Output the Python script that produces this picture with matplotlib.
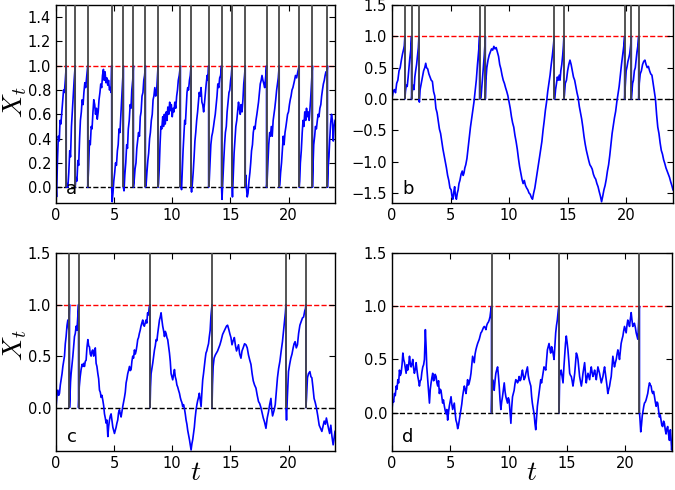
import matplotlib
matplotlib.use('Agg')
import matplotlib.pyplot as plt

# ---------------- data ----------------
# Panel a
a_spikes = [0.88, 1.65, 2.73, 4.79, 5.80, 6.66, 7.69, 8.78, 10.70, 11.62,
            13.13, 14.24, 15.14, 16.28, 18.11, 19.20, 20.92, 22.06, 23.35]
a_t = [0.00, 0.05, 0.12, 0.20, 0.28, 0.35, 0.42, 0.50, 0.58, 0.65, 0.72, 0.80,
       0.95, 1.02, 1.10, 1.18, 1.25, 1.33, 1.40, 1.48, 1.56,
       1.72, 1.80, 1.88, 1.95, 2.03, 2.10, 2.18, 2.25, 2.33, 2.40, 2.48, 2.55, 2.63,
       2.80, 2.88, 2.95, 3.03, 3.10, 3.18, 3.25, 3.33, 3.40, 3.48, 3.55, 3.63, 3.70, 3.78,
       3.85, 3.93, 4.00, 4.08, 4.15, 4.22, 4.30, 4.38, 4.45, 4.52, 4.60, 4.68, 4.74, 4.77,
       4.83, 4.90, 4.97, 5.05, 5.12, 5.20, 5.28, 5.35, 5.42, 5.50, 5.58, 5.65, 5.72,
       5.85, 5.92, 6.00, 6.08, 6.15, 6.22, 6.30, 6.38, 6.45, 6.52, 6.60,
       6.72, 6.80, 6.88, 6.95, 7.02, 7.10, 7.18, 7.25, 7.32, 7.40, 7.48, 7.55, 7.62,
       7.75, 7.82, 7.90, 7.97, 8.05, 8.12, 8.20, 8.28, 8.35, 8.42, 8.50, 8.58, 8.65, 8.72,
       8.82, 8.88, 8.95, 9.02, 9.10, 9.18, 9.25, 9.32, 9.40, 9.48, 9.55, 9.62, 9.70,
       9.78, 9.85, 9.92, 10.00, 10.08, 10.15, 10.22, 10.30, 10.38, 10.45, 10.52, 10.60,
       10.74, 10.80, 10.87, 10.93, 11.00, 11.07, 11.13, 11.20, 11.27, 11.33, 11.40, 11.48, 11.55,
       11.66, 11.72, 11.80, 11.88, 11.95, 12.02, 12.10, 12.18, 12.25, 12.32,
       12.40, 12.48, 12.55, 12.62, 12.70, 12.78, 12.85, 12.92, 13.00, 13.07,
       13.18, 13.25, 13.32, 13.40, 13.47, 13.55, 13.62, 13.70, 13.78, 13.85, 13.92, 14.00, 14.08, 14.16,
       14.28, 14.35, 14.42, 14.50, 14.57, 14.65, 14.72, 14.80, 14.88, 14.95, 15.02, 15.08,
       15.18, 15.25, 15.32, 15.40, 15.47, 15.55, 15.62, 15.70, 15.77, 15.85, 15.92, 16.00, 16.08, 16.15, 16.22,
       16.32, 16.38, 16.45, 16.52, 16.60, 16.68, 16.75, 16.82, 16.90, 16.97, 17.05, 17.12,
       17.20, 17.28, 17.35, 17.42, 17.50, 17.57, 17.65, 17.72, 17.80, 17.88, 17.95, 18.03,
       18.16, 18.22, 18.30, 18.38, 18.45, 18.52, 18.60, 18.68, 18.75, 18.82, 18.90, 18.98, 19.05, 19.12,
       19.25, 19.32, 19.40, 19.48, 19.55, 19.62, 19.70, 19.78, 19.85, 19.92, 20.00,
       20.08, 20.15, 20.22, 20.30, 20.38, 20.45, 20.52, 20.60, 20.70, 20.80,
       20.96, 21.02, 21.10, 21.18, 21.25, 21.32, 21.40, 21.48, 21.55, 21.62, 21.70, 21.78, 21.85, 21.92, 22.00,
       22.10, 22.17, 22.25, 22.32, 22.40, 22.48, 22.55, 22.62, 22.70, 22.78, 22.85, 22.92, 23.00, 23.08, 23.15, 23.22, 23.30,
       23.40, 23.48, 23.55, 23.62, 23.70, 23.78, 23.85, 23.92, 24.00]
a_x = [0.02, -0.08, 0.20, 0.42, 0.38, 0.55, 0.52, 0.62, 0.72, 0.80, 0.78, 0.88,
       0.03, 0.00, 0.12, 0.30, 0.25, 0.50, 0.62, 0.75, 0.88,
       0.08, 0.05, 0.22, 0.18, 0.40, 0.55, 0.62, 0.72, 0.68, 0.78, 0.86, 0.82, 0.90,
       0.15, 0.38, 0.35, 0.50, 0.48, 0.62, 0.72, 0.68, 0.60, 0.65, 0.56, 0.62, 0.72, 0.78,
       0.85, 0.82, 0.92, 0.97, 0.88, 0.95, 0.86, 0.90, 0.84, 0.88, 0.80, 0.82, 0.78, 0.92,
       -0.12, -0.05, 0.05, 0.12, 0.20, 0.18, 0.30, 0.35, 0.48, 0.45, 0.60, 0.72, 0.85,
       -0.03, 0.10, 0.20, 0.35, 0.32, 0.48, 0.55, 0.68, 0.65, 0.80, 0.88,
       0.05, 0.15, 0.20, 0.32, 0.38, 0.45, 0.42, 0.58, 0.62, 0.75, 0.78, 0.88, 0.92,
       0.02, 0.12, 0.22, 0.28, 0.40, 0.45, 0.55, 0.60, 0.72, 0.75, 0.82, 0.75, 0.78, 0.90,
       0.03, 0.15, 0.35, 0.50, 0.48, 0.58, 0.50, 0.60, 0.52, 0.62, 0.55, 0.66, 0.60,
       0.70, 0.63, 0.68, 0.58, 0.65, 0.62, 0.70, 0.65, 0.75, 0.80, 0.88, 0.92,
       0.02, -0.02, 0.15, 0.30, 0.42, 0.55, 0.52, 0.65, 0.78, 0.82, 0.80, 0.88, 0.92,
       -0.04, 0.02, 0.12, 0.25, 0.38, 0.45, 0.55, 0.62, 0.70, 0.78,
       0.75, 0.82, 0.70, 0.68, 0.62, 0.70, 0.78, 0.85, 0.92, 0.88,
       0.05, 0.20, 0.35, 0.42, 0.45, 0.50, 0.55, 0.60, 0.68, 0.75, 0.85, 0.82, 0.90, 0.92,
       -0.10, 0.05, 0.20, 0.35, 0.45, 0.50, 0.62, 0.70, 0.78, 0.80, 0.88, 0.92,
       -0.08, 0.10, 0.28, 0.40, 0.50, 0.55, 0.62, 0.70, 0.65, 0.60, 0.68, 0.62, 0.72, 0.85, 0.92,
       0.10, 0.00, -0.08, -0.05, 0.05, 0.12, 0.20, 0.30, 0.35, 0.45, 0.50, 0.48,
       0.55, 0.60, 0.65, 0.70, 0.78, 0.85, 0.88, 0.92, 0.88, 0.85, 0.82, 0.90,
       0.05, 0.18, 0.35, 0.45, 0.42, 0.50, 0.42, 0.55, 0.60, 0.65, 0.72, 0.80, 0.85, 0.90,
       0.02, 0.12, 0.20, 0.32, 0.42, 0.35, 0.45, 0.50, 0.55, 0.60, 0.62,
       0.68, 0.72, 0.75, 0.80, 0.82, 0.85, 0.88, 0.92, 0.90, 0.95,
       0.05, 0.20, 0.30, 0.45, 0.55, 0.50, 0.62, 0.55, 0.65, 0.58, 0.62, 0.55, 0.65, 0.75, 0.90,
       0.15, 0.35, 0.42, 0.50, 0.48, 0.55, 0.60, 0.58, 0.65, 0.68, 0.75, 0.80, 0.85, 0.88, 0.92, 0.95, 0.92,
       0.15, 0.25, 0.40, 0.52, 0.60, 0.55, 0.38, 0.50, 0.55]

# Panel b
b_spikes = [1.10, 1.67, 2.30, 7.48, 7.97, 13.85, 14.68, 19.87, 20.44, 21.07]
b_t = [0.00, 0.10, 0.20, 0.30, 0.40, 0.50, 0.60, 0.70, 0.80, 0.90, 1.00, 1.05,
       1.15, 1.22, 1.30, 1.38, 1.45, 1.52, 1.60,
       1.72, 1.80, 1.88, 1.95, 2.02, 2.10, 2.18, 2.25,
       2.34, 2.40, 2.50, 2.60, 2.70, 2.80, 2.88, 2.95, 3.05, 3.15,
       3.25, 3.35, 3.45, 3.55, 3.65, 3.75, 3.85, 3.95, 4.05, 4.15,
       4.25, 4.35, 4.45, 4.55, 4.65, 4.75, 4.85, 4.95, 5.05, 5.12,
       5.20, 5.28, 5.35, 5.42, 5.50, 5.58, 5.65, 5.72, 5.80, 5.90,
       6.00, 6.08, 6.15, 6.22, 6.30, 6.40, 6.50, 6.60, 6.70, 6.80,
       6.90, 7.00, 7.10, 7.20, 7.30, 7.38, 7.44,
       7.52, 7.60, 7.70, 7.80, 7.88, 7.93,
       8.02, 8.10, 8.20, 8.30, 8.40, 8.50, 8.60, 8.70, 8.80, 8.90,
       9.00, 9.10, 9.20, 9.30, 9.40, 9.50, 9.60, 9.70, 9.80, 9.90,
       10.00, 10.10, 10.20, 10.30, 10.40, 10.50, 10.60, 10.70, 10.80, 10.90,
       11.00, 11.10, 11.20, 11.30, 11.40, 11.50, 11.60, 11.70, 11.80, 11.90,
       12.00, 12.10, 12.20, 12.30, 12.40, 12.50, 12.60, 12.70, 12.80, 12.90,
       13.00, 13.10, 13.20, 13.30, 13.40, 13.50, 13.60, 13.70, 13.80,
       13.90, 13.97, 14.05, 14.12, 14.20, 14.28, 14.35, 14.42, 14.50, 14.58, 14.64,
       14.72, 14.80, 14.90,
       15.00, 15.10, 15.20, 15.30, 15.40, 15.50, 15.60, 15.70, 15.80, 15.90,
       16.00, 16.10, 16.20, 16.30, 16.40, 16.50, 16.60, 16.70, 16.80, 16.90,
       17.00, 17.10, 17.20, 17.30, 17.40, 17.50, 17.60, 17.70, 17.80, 17.90,
       18.00, 18.10, 18.20, 18.30, 18.40, 18.50, 18.60, 18.70, 18.80, 18.90,
       19.00, 19.10, 19.20, 19.30, 19.40, 19.50, 19.60, 19.70, 19.80,
       19.92, 20.00, 20.08, 20.15, 20.22, 20.30, 20.38,
       20.48, 20.55, 20.62, 20.70, 20.78, 20.85, 20.92, 21.00,
       21.12, 21.20, 21.30, 21.40, 21.50, 21.60, 21.70, 21.80, 21.90, 22.00,
       22.10, 22.20, 22.30, 22.40, 22.50, 22.60, 22.70, 22.80, 22.90, 23.00,
       23.10, 23.20, 23.30, 23.40, 23.50, 23.60, 23.70, 23.80, 23.90, 24.00]
b_x = [0.00, 0.12, 0.15, 0.10, 0.25, 0.30, 0.45, 0.50, 0.62, 0.72, 0.80, 0.85,
       0.12, 0.22, 0.20, 0.35, 0.50, 0.65, 0.78,
       0.10, 0.22, 0.15, 0.35, 0.45, 0.55, 0.70, 0.82,
       -0.05, 0.15, 0.25, 0.35, 0.45, 0.50, 0.57, 0.50, 0.48, 0.40,
       0.35, 0.30, 0.28, 0.12, 0.05, -0.15, -0.22, -0.35, -0.48, -0.55,
       -0.68, -0.80, -0.90, -1.00, -1.10, -1.22, -1.30, -1.42, -1.45, -1.55,
       -1.60, -1.48, -1.40, -1.55, -1.60, -1.50, -1.45, -1.35, -1.30, -1.20,
       -1.15, -1.22, -1.18, -1.10, -1.05, -0.95, -0.78, -0.60, -0.45, -0.32,
       -0.20, -0.05, 0.12, 0.30, 0.55, 0.72, 0.85,
       0.00, 0.02, 0.25, 0.50, 0.70, 0.85,
       0.30, 0.50, 0.62, 0.70, 0.75, 0.80, 0.78, 0.84, 0.80, 0.82,
       0.75, 0.68, 0.55, 0.48, 0.38, 0.30, 0.25, 0.18, 0.12, 0.05,
       -0.05, -0.15, -0.28, -0.38, -0.45, -0.58, -0.68, -0.80, -0.95, -1.08,
       -1.18, -1.28, -1.35, -1.30, -1.38, -1.42, -1.45, -1.50, -1.52, -1.57,
       -1.60, -1.50, -1.42, -1.30, -1.18, -1.05, -0.93, -0.80, -0.68, -0.50,
       -0.35, -0.18, -0.05, 0.12, 0.25, 0.38, 0.55, 0.70, 0.88,
       0.00, 0.15, 0.25, 0.35, 0.30, 0.38, 0.30, 0.45, 0.55, 0.70, 0.85,
       0.05, 0.25, 0.30,
       0.45, 0.55, 0.62, 0.55, 0.45, 0.35, 0.30, 0.20, 0.10, 0.02,
       -0.12, -0.22, -0.32, -0.45, -0.60, -0.72, -0.82, -0.90, -0.98, -1.05,
       -1.08, -1.12, -1.20, -1.25, -1.28, -1.35, -1.40, -1.48, -1.55, -1.64,
       -1.55, -1.45, -1.38, -1.28, -1.15, -1.05, -0.90, -0.72, -0.55, -0.42,
       -0.30, -0.20, -0.05, 0.08, 0.20, 0.38, 0.55, 0.70, 0.85,
       0.20, 0.45, 0.52, 0.60, 0.65, 0.72, 0.85,
       0.10, 0.25, 0.30, 0.45, 0.50, 0.62, 0.75, 0.85,
       0.25, 0.40, 0.45, 0.55, 0.60, 0.62, 0.55, 0.50, 0.52, 0.45,
       0.40, 0.38, 0.25, 0.12, 0.00, -0.25, -0.45, -0.55, -0.70, -0.82,
       -0.88, -0.97, -1.03, -1.10, -1.15, -1.20, -1.25, -1.32, -1.38, -1.45]

# Panel c
c_spikes = [1.16, 1.94, 8.09, 13.42, 19.78, 21.50]
c_t = [0.00, 0.08, 0.16, 0.23, 0.30, 0.37, 0.44, 0.52, 0.59, 0.66, 0.73, 0.80, 0.87, 0.95, 1.02, 1.10,
       1.20, 1.25, 1.30, 1.38, 1.45, 1.52, 1.59, 1.66, 1.73, 1.80, 1.88,
       2.00, 2.08, 2.16, 2.24, 2.31, 2.38, 2.45, 2.52, 2.59, 2.66,
       2.74, 2.81, 2.88, 2.95, 3.02, 3.10, 3.17, 3.24, 3.31, 3.38,
       3.45, 3.52, 3.60, 3.67, 3.74, 3.81, 3.88, 3.95, 4.03, 4.10,
       4.17, 4.24, 4.31, 4.38, 4.46, 4.53, 4.60, 4.67, 4.74, 4.81,
       4.89, 4.96, 5.03, 5.10, 5.17, 5.24, 5.31, 5.38, 5.46, 5.53,
       5.60, 5.67, 5.74, 5.81, 5.89, 5.96, 6.03, 6.10, 6.17, 6.24,
       6.32, 6.39, 6.46, 6.53, 6.60, 6.67, 6.75, 6.82, 6.89, 6.96,
       7.03, 7.10, 7.17, 7.24, 7.31, 7.38, 7.46, 7.53, 7.60, 7.67,
       7.74, 7.81, 7.88, 7.95, 8.03,
       8.13, 8.18, 8.25, 8.32, 8.40, 8.47, 8.54, 8.61, 8.68, 8.75,
       8.82, 8.90, 8.97, 9.04, 9.11, 9.18, 9.25, 9.33, 9.40, 9.47,
       9.54, 9.61, 9.68, 9.76, 9.83, 9.90, 9.97, 10.04, 10.11, 10.19,
       10.26, 10.33, 10.40, 10.47, 10.54, 10.62, 10.69, 10.76, 10.83, 10.90,
       10.97, 11.05, 11.12, 11.19, 11.26, 11.33, 11.40, 11.48, 11.55, 11.62,
       11.69, 11.76, 11.83, 11.90, 11.97, 12.05, 12.12, 12.19, 12.26, 12.33,
       12.40, 12.48, 12.55, 12.62, 12.69, 12.76, 12.83, 12.90, 12.97, 13.05,
       13.12, 13.19, 13.26, 13.33, 13.38,
       13.46, 13.52, 13.60, 13.70, 13.80, 13.90, 14.00, 14.10, 14.20, 14.33,
       14.45, 14.56, 14.66, 14.76, 14.86, 14.97, 15.05, 15.14, 15.24, 15.34,
       15.44, 15.53, 15.62, 15.70, 15.80, 15.91, 16.00, 16.10, 16.22, 16.34,
       16.45, 16.56, 16.67, 16.77, 16.87, 16.97, 17.08, 17.20, 17.31, 17.42,
       17.52, 17.63, 17.73, 17.83, 17.94, 18.06, 18.17, 18.28, 18.38, 18.49,
       18.56, 18.63, 18.75, 18.86, 18.95, 19.05, 19.15, 19.26, 19.37, 19.48,
       19.58, 19.66, 19.73,
       19.83, 19.90, 20.00, 20.10, 20.20, 20.30, 20.40, 20.48, 20.57, 20.67,
       20.77, 20.87, 20.98, 21.10, 21.20, 21.30, 21.40, 21.46,
       21.55, 21.63, 21.72, 21.84, 21.93, 22.01, 22.10, 22.20, 22.30, 22.40,
       22.52, 22.64, 22.75, 22.87, 22.97, 23.07, 23.17, 23.26, 23.35, 23.44,
       23.54, 23.64, 23.74, 23.84, 23.92, 24.00]
c_x = [0.00, 0.12, 0.17, 0.12, 0.14, 0.22, 0.27, 0.33, 0.40, 0.45, 0.50, 0.62, 0.69, 0.80, 0.85, 0.76,
       0.10, 0.25, 0.33, 0.42, 0.50, 0.60, 0.69, 0.72, 0.79, 0.75, 0.89,
       0.20, 0.30, 0.37, 0.42, 0.40, 0.43, 0.40, 0.45, 0.46, 0.58,
       0.66, 0.60, 0.59, 0.52, 0.50, 0.55, 0.56, 0.50, 0.53, 0.58,
       0.43, 0.40, 0.33, 0.28, 0.17, 0.15, 0.10, 0.12, 0.07, 0.02,
       -0.06, -0.10, -0.15, -0.12, -0.28, -0.18, -0.12, -0.08, -0.06, -0.12,
       -0.19, -0.22, -0.25, -0.22, -0.19, -0.15, -0.12, -0.05, -0.02, -0.06,
       -0.09, -0.04, 0.01, 0.05, 0.10, 0.15, 0.24, 0.28, 0.33, 0.36,
       0.40, 0.36, 0.37, 0.45, 0.50, 0.48, 0.56, 0.52, 0.55, 0.60,
       0.66, 0.68, 0.72, 0.75, 0.79, 0.82, 0.85, 0.80, 0.79, 0.82,
       0.85, 0.82, 0.92, 0.90, 0.98,
       0.20, 0.33, 0.38, 0.43, 0.50, 0.56, 0.60, 0.66, 0.65, 0.72,
       0.78, 0.85, 0.88, 0.92, 0.85, 0.79, 0.75, 0.69, 0.74, 0.72,
       0.68, 0.66, 0.60, 0.53, 0.45, 0.33, 0.30, 0.27, 0.32, 0.37,
       0.30, 0.27, 0.22, 0.20, 0.17, 0.14, 0.10, 0.07, 0.05, 0.01,
       0.03, -0.01, -0.06, -0.12, -0.16, -0.22, -0.26, -0.31, -0.36, -0.41,
       -0.35, -0.31, -0.25, -0.19, -0.10, -0.02, 0.03, 0.07, 0.10, 0.14,
       0.08, 0.01, 0.15, 0.27, 0.33, 0.40, 0.47, 0.53, 0.55, 0.59,
       0.62, 0.69, 0.75, 0.89, 0.95,
       0.22, 0.40, 0.48, 0.51, 0.53, 0.55, 0.58, 0.61, 0.65, 0.71,
       0.74, 0.77, 0.79, 0.80, 0.76, 0.71, 0.68, 0.61, 0.65, 0.68,
       0.60, 0.55, 0.58, 0.61, 0.52, 0.48, 0.55, 0.58, 0.62, 0.61,
       0.58, 0.51, 0.46, 0.42, 0.33, 0.26, 0.22, 0.19, 0.12, 0.06,
       0.04, 0.00, -0.05, -0.10, -0.14, -0.20, -0.10, -0.04, 0.03, 0.09,
       -0.02, -0.08, -0.03, 0.03, 0.15, 0.29, 0.38, 0.45, 0.55, 0.64,
       0.75, 0.84, 0.92,
       -0.12, 0.10, 0.35, 0.42, 0.48, 0.52, 0.58, 0.62, 0.64, 0.58,
       0.61, 0.72, 0.80, 0.84, 0.87, 0.88, 0.94, 0.96,
       0.10, 0.29, 0.33, 0.35, 0.30, 0.29, 0.20, 0.09, 0.05, 0.00,
       -0.08, -0.17, -0.20, -0.23, -0.18, -0.13, -0.16, -0.10, -0.15, -0.20,
       -0.25, -0.17, -0.28, -0.36, -0.30, -0.23]

# Panel d
d_spikes = [8.53, 14.32, 21.21]
d_t = [0.00, 0.07, 0.14, 0.21, 0.28, 0.36, 0.43, 0.50, 0.57, 0.64,
       0.71, 0.78, 0.86, 0.93, 1.00, 1.07, 1.14, 1.21, 1.28, 1.35,
       1.42, 1.50, 1.57, 1.64, 1.71, 1.78, 1.85, 1.92, 2.00, 2.07,
       2.14, 2.21, 2.28, 2.35, 2.42, 2.49, 2.56, 2.64, 2.71, 2.78,
       2.86, 2.93, 2.98, 3.06, 3.13, 3.21, 3.28, 3.35, 3.42, 3.49,
       3.56, 3.63, 3.70, 3.78, 3.85, 3.92, 3.99, 4.06, 4.13, 4.20,
       4.27, 4.34, 4.41, 4.49, 4.56, 4.63, 4.70, 4.77, 4.84, 4.91,
       4.98, 5.06, 5.13, 5.20, 5.27, 5.34, 5.41, 5.48, 5.56, 5.63,
       5.70, 5.77, 5.84, 5.91, 5.98, 6.05, 6.12, 6.20, 6.27, 6.34,
       6.41, 6.48, 6.55, 6.62, 6.70, 6.77, 6.84, 6.91, 6.98, 7.05,
       7.12, 7.19, 7.26, 7.34, 7.41, 7.48, 7.55, 7.62, 7.69, 7.76,
       7.84, 7.91, 7.98, 8.05, 8.12, 8.19, 8.26, 8.33, 8.40, 8.48,
       8.57, 8.62, 8.69, 8.76, 8.83, 8.90, 8.97, 9.05, 9.12, 9.19,
       9.26, 9.33, 9.40, 9.47, 9.55, 9.62, 9.69, 9.76, 9.83, 9.90,
       9.97, 10.04, 10.12, 10.19, 10.26, 10.33, 10.40, 10.47, 10.54, 10.61,
       10.69, 10.76, 10.83, 10.90, 10.97, 11.04, 11.11, 11.18, 11.25, 11.32,
       11.40, 11.47, 11.54, 11.61, 11.68, 11.75, 11.82, 11.90, 11.97, 12.03,
       12.10, 12.18, 12.25, 12.32, 12.39, 12.46, 12.53, 12.60, 12.68, 12.75,
       12.82, 12.89, 12.96, 13.03, 13.10, 13.18, 13.25, 13.32, 13.39, 13.46,
       13.53, 13.60, 13.68, 13.75, 13.82, 13.89, 13.96, 14.03, 14.10, 14.17,
       14.26,
       14.37, 14.44, 14.50, 14.58, 14.66, 14.73, 14.80, 14.87, 14.94, 15.01,
       15.08, 15.16, 15.23, 15.30, 15.37, 15.44, 15.51, 15.58, 15.66, 15.73,
       15.80, 15.87, 15.94, 16.01, 16.08, 16.15, 16.23, 16.30, 16.37, 16.44,
       16.51, 16.58, 16.65, 16.72, 16.80, 16.87, 16.94, 17.01, 17.08, 17.15,
       17.22, 17.30, 17.37, 17.44, 17.51, 17.58, 17.65, 17.72, 17.79, 17.87,
       17.94, 18.01, 18.08, 18.15, 18.22, 18.29, 18.36, 18.43, 18.50, 18.58,
       18.65, 18.72, 18.79, 18.86, 18.93, 19.00, 19.07, 19.15, 19.22, 19.29,
       19.36, 19.43, 19.50, 19.57, 19.64, 19.72, 19.79, 19.86, 19.93, 20.00,
       20.07, 20.14, 20.21, 20.29, 20.36, 20.43, 20.50, 20.57, 20.64, 20.71,
       20.78, 20.86, 20.93, 21.00, 21.07, 21.14, 21.18,
       21.25, 21.32, 21.38, 21.45, 21.52, 21.58, 21.64, 21.71, 21.78, 21.85,
       21.92, 22.00, 22.07, 22.14, 22.21, 22.28, 22.35, 22.42, 22.50, 22.57,
       22.64, 22.71, 22.78, 22.85, 22.92, 22.99, 23.06, 23.13, 23.20, 23.28,
       23.35, 23.42, 23.49, 23.56, 23.63, 23.70, 23.78, 23.86, 23.92, 23.97,
       24.00]
d_x = [0.03, 0.12, 0.10, 0.18, 0.16, 0.25, 0.22, 0.31, 0.28, 0.40,
       0.35, 0.37, 0.45, 0.56, 0.50, 0.47, 0.42, 0.37, 0.45, 0.40,
       0.44, 0.53, 0.46, 0.43, 0.46, 0.50, 0.42, 0.37, 0.41, 0.47,
       0.40, 0.34, 0.30, 0.25, 0.30, 0.31, 0.38, 0.43, 0.45, 0.50,
       0.78, 0.60, 0.43, 0.31, 0.20, 0.09, 0.22, 0.28, 0.33, 0.37,
       0.30, 0.31, 0.36, 0.34, 0.28, 0.25, 0.30, 0.18, 0.22, 0.21,
       0.15, 0.09, 0.12, 0.06, 0.02, -0.01, 0.03, -0.07, 0.00, 0.06,
       0.10, 0.15, 0.08, 0.03, 0.06, 0.09, 0.00, -0.07, -0.10, -0.15,
       -0.12, -0.07, -0.02, 0.03, 0.08, 0.15, 0.20, 0.25, 0.22, 0.18,
       0.24, 0.31, 0.26, 0.28, 0.32, 0.37, 0.45, 0.53, 0.50, 0.47,
       0.55, 0.59, 0.62, 0.65, 0.67, 0.69, 0.72, 0.75, 0.76, 0.78,
       0.80, 0.81, 0.80, 0.78, 0.82, 0.84, 0.85, 0.87, 0.90, 0.97,
       0.25, 0.31, 0.27, 0.21, 0.30, 0.37, 0.40, 0.43, 0.35, 0.25,
       0.12, 0.03, 0.10, 0.15, 0.22, 0.28, 0.20, 0.15, 0.12, 0.09,
       0.14, 0.12, 0.00, -0.10, 0.05, 0.15, 0.18, 0.21, 0.27, 0.31,
       0.30, 0.28, 0.30, 0.34, 0.30, 0.31, 0.36, 0.40, 0.35, 0.31,
       0.33, 0.37, 0.40, 0.43, 0.35, 0.31, 0.28, 0.25, 0.15, 0.09,
       0.04, -0.01, -0.10, -0.16, -0.05, 0.06, 0.12, 0.18, 0.25, 0.31,
       0.28, 0.33, 0.38, 0.43, 0.42, 0.40, 0.50, 0.59, 0.62, 0.65,
       0.60, 0.56, 0.62, 0.59, 0.55, 0.50, 0.62, 0.75, 0.82, 0.87,
       0.97,
       0.34, 0.38, 0.40, 0.34, 0.28, 0.42, 0.53, 0.65, 0.72, 0.66,
       0.59, 0.48, 0.37, 0.35, 0.34, 0.30, 0.25, 0.30, 0.37, 0.46,
       0.56, 0.54, 0.50, 0.42, 0.34, 0.30, 0.25, 0.30, 0.37, 0.42,
       0.47, 0.38, 0.28, 0.33, 0.37, 0.34, 0.31, 0.38, 0.43, 0.38,
       0.34, 0.37, 0.40, 0.35, 0.31, 0.37, 0.43, 0.40, 0.37, 0.32,
       0.28, 0.31, 0.34, 0.39, 0.43, 0.37, 0.31, 0.25, 0.18, 0.22,
       0.25, 0.30, 0.34, 0.44, 0.53, 0.48, 0.43, 0.47, 0.50, 0.55,
       0.59, 0.55, 0.50, 0.58, 0.65, 0.69, 0.72, 0.77, 0.81, 0.78,
       0.75, 0.82, 0.87, 0.84, 0.81, 0.88, 0.94, 0.87, 0.81, 0.83,
       0.84, 0.80, 0.75, 0.72, 0.69, 0.85, 0.97,
       -0.05, -0.18, -0.12, -0.03, 0.02, 0.06, 0.09, 0.10, 0.12, 0.15,
       0.18, 0.24, 0.28, 0.26, 0.25, 0.20, 0.18, 0.20, 0.15, 0.10,
       0.06, 0.10, 0.09, 0.02, -0.04, -0.02, -0.07, -0.12, -0.13, -0.08,
       -0.10, -0.16, -0.20, -0.15, -0.13, -0.20, -0.26, -0.16, -0.25, -0.35,
       -0.30]

threshold = 1.0
reset = 0.0
x_ticks = [0, 5, 10, 15, 20]
a_yticks = [0.0, 0.2, 0.4, 0.6, 0.8, 1.0, 1.2, 1.4]
b_yticks = [-1.5, -1.0, -0.5, 0.0, 0.5, 1.0, 1.5]
cd_yticks = [0.0, 0.5, 1.0, 1.5]

# ---------------- style ----------------
plt.rcParams.update({
    'font.family': 'DejaVu Sans',
    'font.size': 10.5,
    'mathtext.fontset': 'cm',
    'xtick.direction': 'in',
    'ytick.direction': 'in',
    'xtick.top': True,
    'ytick.right': True,
    'xtick.major.size': 4,
    'ytick.major.size': 4,
    'axes.linewidth': 1.0,
})


def build(ts, xs, spikes):
    if len(ts) != len(xs):
        raise ValueError(f"length mismatch {len(ts)} vs {len(xs)}")
    T = list(ts) + [s for s in spikes for _ in (0, 1)]
    X = list(xs) + [v for _ in spikes for v in (threshold, reset)]
    order = sorted(range(len(T)), key=lambda i: T[i])
    return [T[i] for i in order], [X[i] for i in order]


W, H = 675.0, 490.0
fig = plt.figure(figsize=(6.75, 4.9), dpi=100)

panels = [
    ('a', a_t, a_x, a_spikes, (-0.13, 1.5), a_yticks, (56, 5, 335, 203)),
    ('b', b_t, b_x, b_spikes, (-1.66, 1.5), b_yticks, (392, 5, 673, 203)),
    ('c', c_t, c_x, c_spikes, (-0.42, 1.5), cd_yticks, (56, 253, 335, 451)),
    ('d', d_t, d_x, d_spikes, (-0.36, 1.5), cd_yticks, (392, 253, 672, 451)),
]

axes = {}
for name, ts, xs, spikes, ylim, yticks, (l, t, r, b) in panels:
    ax = fig.add_axes([l / W, 1 - b / H, (r - l) / W, (b - t) / H])
    axes[name] = ax
    T, X = build(ts, xs, spikes)
    ax.plot(T, X, color='#0000ff', lw=1.2, zorder=2)
    ax.axhline(threshold, color='#ff0000', ls='--', lw=1.0, zorder=1)
    ax.axhline(reset, color='k', ls='--', lw=1.0, zorder=1)
    ax.vlines(spikes, reset, ylim[1] + 1.0, color='0.28', lw=1.3, zorder=3)
    ax.set_xlim(0, 24)
    ax.set_ylim(*ylim)
    ax.set_xticks(x_ticks)
    ax.set_yticks(yticks)
    ax.set_yticklabels([f"{v:.1f}".replace('-', '\u2212') for v in yticks])
    ax.text(0.057, 0.07, name, transform=ax.transAxes, fontsize=13,
            ha='center', va='center', zorder=5)

fig.text(15 / W, 1 - 102 / H, r'$X_t$', fontsize=20, rotation=90,
         ha='center', va='center')
fig.text(15 / W, 1 - 345 / H, r'$X_t$', fontsize=20, rotation=90,
         ha='center', va='center')
fig.text(196 / W, 1 - 472 / H, r'$t$', fontsize=20, ha='center', va='center')
fig.text(532 / W, 1 - 472 / H, r'$t$', fontsize=20, ha='center', va='center')

fig.savefig('out.png', dpi=100)
